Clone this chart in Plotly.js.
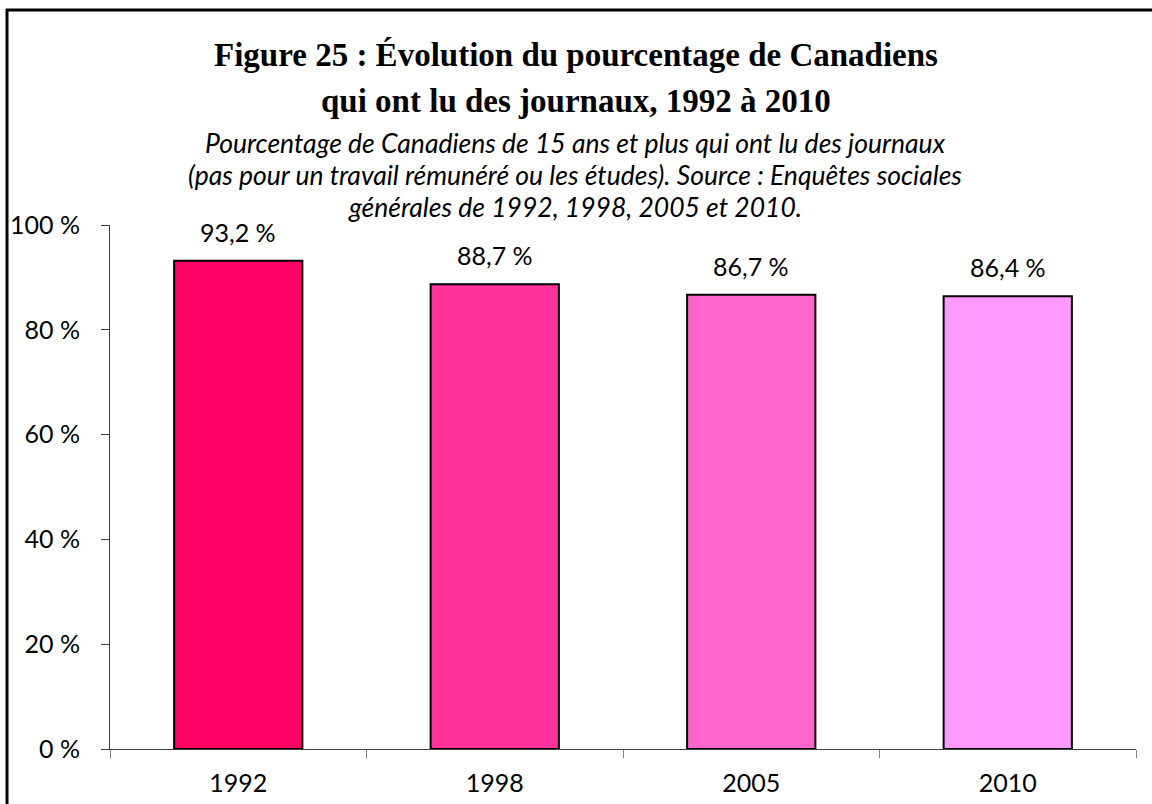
<!DOCTYPE html>
<html>
<head>
<meta charset="utf-8">
<script src="https://cdn.plot.ly/plotly-3.0.1.min.js"></script>
<style>
  html, body { margin: 0; padding: 0; background: #ffffff; }
  #chart { width: 1152px; height: 804px; }
</style>
</head>
<body>
<div id="chart"></div>
<script>
// ---- Data ----
const years = ["1992", "1998", "2005", "2010"];
const percentages = [93.2, 88.7, 86.7, 86.4];
const barColors = ["#FF0066", "#FF3399", "#FF66CC", "#FF99FF"];
const yTicks = [0, 20, 40, 60, 80, 100];
const yTickText = ["0 %", "20 %", "40 %", "60 %", "80 %", "100 %"];

const titleLines = [
  "Figure 25 : Évolution du pourcentage de Canadiens",
  "qui ont lu des journaux, 1992 à 2010"
];
const subtitleLines = [
  "Pourcentage de Canadiens de 15 ans et plus qui ont lu des journaux",
  "(pas pour un travail rémunéré ou les études). Source : Enquêtes sociales",
  "générales de 1992, 1998, 2005 et 2010."
];

// ---- Layout geometry (pixels) ----
const W = 1152, H = 804;
const L = 110, R = 16, T = 225, B = 55;
const PW = W - L - R, PH = H - T - B;
const px2x = px => (px - L) / PW;
const py2y = py => (H - B - py) / PH;

const annotations = [];
const titleY = [55, 101];
titleLines.forEach((t, i) => {
  annotations.push({
    text: "<b>" + t + "</b>", xref: "paper", yref: "paper",
    x: px2x(576), y: py2y(titleY[i]), xanchor: "center", yanchor: "middle",
    showarrow: false,
    font: { family: "Liberation Serif, serif", size: 33, color: "#000000" }
  });
});
const subY = [143, 175, 207];
subtitleLines.forEach((t, i) => {
  annotations.push({
    text: "<i>" + t + "</i>", xref: "paper", yref: "paper",
    x: px2x(575), y: py2y(subY[i]), xanchor: "center", yanchor: "middle",
    showarrow: false,
    font: { family: "Lato, sans-serif", size: 26.5, color: "#000000" }
  });
});
// value labels above bars, placed through the data axes (category index)
years.forEach((yr, i) => {
  annotations.push({
    text: percentages[i].toFixed(1).replace(".", ",") + " %",
    xref: "x", yref: "y", x: i, y: percentages[i],
    xanchor: "center", yanchor: "bottom", yshift: 12,
    showarrow: false,
    font: { family: "Lato, sans-serif", size: 25, color: "#000000" }
  });
});

const shapes = [
  // outer frame (left and top edges visible)
  { type: "line", xref: "paper", yref: "paper",
    x0: px2x(7), x1: px2x(7), y0: py2y(9), y1: py2y(820),
    line: { color: "#000000", width: 3 } },
  { type: "line", xref: "paper", yref: "paper",
    x0: px2x(6), x1: px2x(1160), y0: py2y(10), y1: py2y(10),
    line: { color: "#000000", width: 3 } }
];

const trace = {
  type: "bar",
  x: years,
  y: percentages,
  marker: { color: barColors, line: { color: "#000000", width: 2 } },
  cliponaxis: false,
  hoverinfo: "x+y"
};

const layout = {
  width: W, height: H,
  margin: { l: L, r: R, t: T, b: B, pad: 0 },
  paper_bgcolor: "#ffffff",
  plot_bgcolor: "#ffffff",
  showlegend: false,
  bargap: 0.5,
  font: { family: "Lato, sans-serif", size: 25, color: "#000000" },
  xaxis: {
    type: "category",
    range: [-0.5, years.length - 0.5],
    autorange: false,
    tickson: "boundaries",
    ticks: "outside", ticklen: 8, tickwidth: 1, tickcolor: "#808080",
    showline: true, linecolor: "#404040", linewidth: 1,
    showgrid: false, zeroline: false,
    tickangle: 0,
    ticklabelstandoff: 12,
    tickfont: { family: "Lato, sans-serif", size: 25, color: "#000000" }
  },
  yaxis: {
    range: [0, 100],
    autorange: false,
    tickmode: "array",
    tickvals: yTicks,
    ticktext: yTickText,
    ticks: "outside", ticklen: 8, tickwidth: 1, tickcolor: "#404040",
    showline: true, linecolor: "#404040", linewidth: 1,
    showgrid: false, zeroline: false,
    ticklabelstandoff: 16,
    tickfont: { family: "Lato, sans-serif", size: 25, color: "#000000" }
  },
  annotations: annotations,
  shapes: shapes
};

Plotly.newPlot("chart", [trace], layout, { displayModeBar: false, staticPlot: true });
</script>
</body>
</html>
